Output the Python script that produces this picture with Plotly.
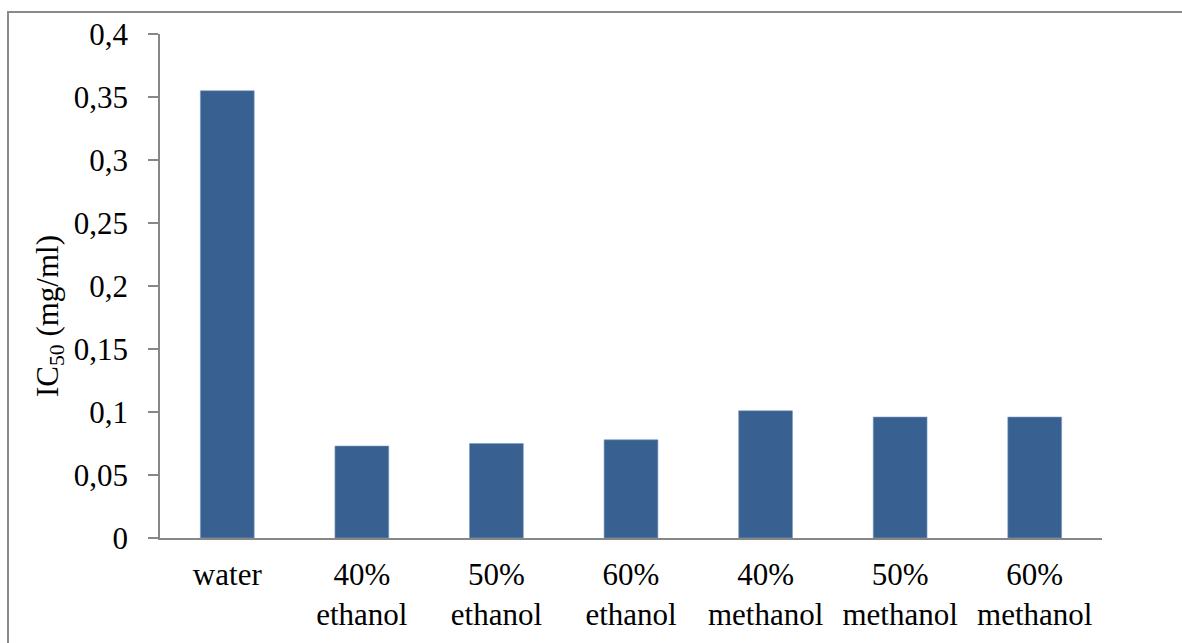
import plotly.graph_objects as go

# IC50 values of the extracts (mg/ml)
categories = ["water", "40%<br>ethanol", "50%<br>ethanol", "60%<br>ethanol",
              "40%<br>methanol", "50%<br>methanol", "60%<br>methanol"]
ic50_values = [0.355, 0.073, 0.075, 0.078, 0.101, 0.096, 0.096]

y_tick_values = [0, 0.05, 0.1, 0.15, 0.2, 0.25, 0.3, 0.35, 0.4]
y_tick_labels = ["0", "0,05", "0,1", "0,15", "0,2", "0,25", "0,3", "0,35", "0,4"]

FONT = "Liberation Serif"
FONT_SIZE = 31
BAR_COLOR = "#386192"
AXIS_COLOR = "#878787"

fig = go.Figure(
    go.Bar(
        x=categories,
        y=ic50_values,
        marker=dict(color=BAR_COLOR, line=dict(color="#7f9cc0", width=0.6)),
    )
)

fig.update_layout(
    width=1182,
    height=643,
    margin=dict(l=160, r=80, t=34, b=105),
    paper_bgcolor="white",
    plot_bgcolor="white",
    bargap=0.6,
    showlegend=False,
    font=dict(family=FONT, size=FONT_SIZE, color="black"),
    annotations=[
        dict(
            text="IC<sub>50</sub> (mg/ml)",
            textangle=-90,
            xref="paper", yref="paper",
            x=-0.117, y=0.44,
            xanchor="center", yanchor="middle",
            showarrow=False,
            font=dict(family=FONT, size=FONT_SIZE, color="black"),
        )
    ],
    shapes=[
        # outer frame around the chart
        dict(
            type="rect", xref="paper", yref="paper",
            x0=(8 - 160) / 942, x1=1.2,
            y0=-0.4, y1=(538 - 12) / 504,
            line=dict(color="#8a8a8a", width=2),
            fillcolor="rgba(0,0,0,0)",
            layer="below",
        )
    ],
)

fig.update_xaxes(
    showline=True, linecolor=AXIS_COLOR, linewidth=1.5,
    showgrid=False, zeroline=False,
    ticks="", ticklabelstandoff=8,
    tickfont=dict(family=FONT, size=FONT_SIZE, color="black"),
)

fig.update_yaxes(
    range=[0, 0.4],
    tickvals=y_tick_values, ticktext=y_tick_labels,
    showline=True, linecolor=AXIS_COLOR, linewidth=1.5,
    ticks="outside", ticklen=10, tickcolor=AXIS_COLOR, tickwidth=1.5,
    ticklabelstandoff=14,
    showgrid=False, zeroline=False,
    tickfont=dict(family=FONT, size=FONT_SIZE, color="black"),
)

fig.write_html("out.html")
